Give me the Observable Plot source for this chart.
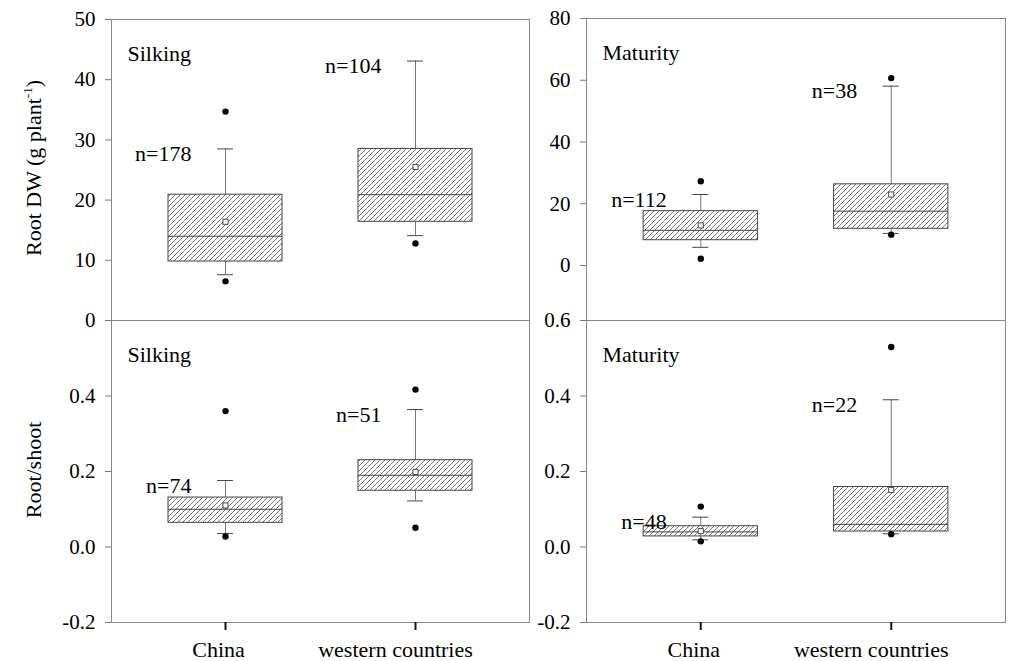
<!DOCTYPE html>
<html>
<head>
<meta charset="utf-8">
<script src="https://cdn.jsdelivr.net/npm/d3@7"></script>
<script src="https://cdn.jsdelivr.net/npm/@observablehq/plot@0.6"></script>
<style>
  html, body { margin: 0; padding: 0; background: white; }
  #wrap { position: relative; width: 1010px; height: 661px; background: white; overflow: hidden;
          font-family: 'Liberation Serif', 'Times New Roman', serif; color: black; }
  #wrap svg { position: absolute; }
  .ytitle { position: absolute; white-space: nowrap; font-size: 22px;
            font-family: 'Liberation Serif', 'Times New Roman', serif;
            transform: translate(-50%, -50%) rotate(-90deg); }
  .ytitle sup { font-size: 13px; vertical-align: 9px; line-height: 0; }
</style>
</head>
<body>
<div id="wrap">
  <div class="ytitle" style="left:34px; top:168px;">Root DW (g plant<sup>-1</sup>)</div>
  <div class="ytitle" style="left:34px; top:470px;">Root/shoot</div>
</div>
<script>
// ---- data ----
const groups = ["China", "western countries"];
const stages = ["Silking", "Maturity"];
// order of each stats array:
// [low outlier, low whisker, Q1, median, Q3, high whisker, high outlier, mean]
const dwSilkingChina    = [6.5, 7.6, 9.8, 14.0, 20.9, 28.5, 34.7, 16.4];
const dwSilkingWestern  = [12.8, 14.1, 16.4, 20.9, 28.5, 43.1, null, 25.5];
const dwMaturityChina   = [2.2, 5.9, 8.2, 11.4, 17.6, 23.0, 27.3, 13.0];
const dwMaturityWestern = [10.0, 10.4, 11.9, 17.6, 26.3, 58.1, 60.7, 23.0];
const rsSilkingChina    = [0.028, 0.036, 0.064, 0.100, 0.131, 0.176, 0.360, 0.110];
const rsSilkingWestern  = [0.051, 0.122, 0.149, 0.190, 0.230, 0.364, 0.417, 0.199];
const rsMaturityChina   = [0.015, 0.019, 0.028, 0.040, 0.055, 0.079, 0.107, 0.042];
const rsMaturityWestern = [0.034, 0.035, 0.041, 0.060, 0.159, 0.390, 0.530, 0.151];
const nDwSilking  = [178, 104];
const nDwMaturity = [112, 38];
const nRsSilking  = [74, 51];
const nRsMaturity = [48, 22];
const dwSilkingTicks  = [0, 10, 20, 30, 40, 50];
const dwMaturityTicks = [0, 20, 40, 60, 80];
const rsSilkingTicks  = [-0.2, 0.0, 0.2, 0.4];
const rsMaturityTicks = [-0.2, 0.0, 0.2, 0.4, 0.6];

// ---- build tables ----
function rows(china, western, ns) {
  return [china, western].map((s, i) => ({
    x: i + 1, lo: s[0], wlo: s[1], q1: s[2], med: s[3], q3: s[4], whi: s[5], hi: s[6], mean: s[7], n: ns[i]
  }));
}

const FONT = "'Liberation Serif', 'Times New Roman', serif";
const HALF = 0.3, CAP = 0.042;

function panel(cfg) {
  const {data, domain, ticks, fmt, stage, pid, left, top, width, height, margin, xAxis} = cfg;
  const marks = [
    Plot.frame({stroke: "#888", strokeWidth: 1}),
    Plot.ruleX(data, {x: "x", y1: "q3", y2: "whi", stroke: "#777"}),
    Plot.ruleX(data, {x: "x", y1: "q1", y2: "wlo", stroke: "#777"}),
    Plot.ruleY(data, {y: "whi", x1: d => d.x - CAP, x2: d => d.x + CAP, stroke: "#444"}),
    Plot.ruleY(data, {y: "wlo", x1: d => d.x - CAP, x2: d => d.x + CAP, stroke: "#444"}),
    Plot.rect(data, {x1: d => d.x - HALF, x2: d => d.x + HALF, y1: "q1", y2: "q3",
                     fill: `url(#${pid})`, stroke: "#444", strokeWidth: 1}),
    Plot.ruleY(data, {y: "med", x1: d => d.x - HALF, x2: d => d.x + HALF, stroke: "#444"}),
    Plot.dot(data, {x: "x", y: "mean", symbol: "square", r: 2.9, fill: "white", stroke: "#333", strokeWidth: 0.9}),
    Plot.dot(data, {x: "x", y: "hi", r: 3.2, fill: "black"}),
    Plot.dot(data, {x: "x", y: "lo", r: 3.2, fill: "black"}),
    Plot.text([stage], {text: d => d, frameAnchor: "top-left", dx: 16, dy: 34,
                        textAnchor: "start", lineAnchor: "middle", fontSize: 22, fill: "black"}),
    Plot.text(data, {x: "x", y: "whi", text: d => "n=" + d.n, textAnchor: "end", lineAnchor: "middle",
                     dx: -34, dy: 5, fontSize: 22, fill: "black"}),
    Plot.axisY(ticks, {tickSize: 6, tickPadding: 10, tickFormat: fmt, fontSize: 21,
                       stroke: "#777", fill: "black", label: null})
  ];
  if (xAxis) {
    marks.push(
      Plot.axisX([1, 2], {tickSize: 8, tickFormat: () => "", stroke: "#111", strokeWidth: 2, label: null}),
      Plot.axisX([1], {tickSize: 0, tickPadding: 19, tickFormat: d => groups[d - 1], dx: -7,
                       fontSize: 22, fill: "black", label: null}),
      Plot.axisX([2], {tickSize: 0, tickPadding: 19, tickFormat: d => groups[d - 1], dx: -20,
                       fontSize: 22, fill: "black", label: null})
    );
  }
  const svg = Plot.plot({
    width, height,
    marginLeft: margin[0], marginRight: margin[1], marginTop: margin[2], marginBottom: margin[3],
    x: {domain: [0.4, 2.6], axis: xAxis ? undefined : null},
    y: {domain, nice: false},
    marks
  });
  svg.style.background = "transparent";
  svg.style.overflow = "visible";
  svg.style.fontFamily = FONT;
  svg.style.color = "black";
  svg.setAttribute("font-family", FONT);
  d3.select(svg).selectAll("text").style("font-family", FONT);
  const defs = d3.select(svg).insert("defs", ":first-child");
  const pat = defs.append("pattern").attr("id", pid).attr("patternUnits", "userSpaceOnUse")
    .attr("width", 5).attr("height", 5);
  pat.append("rect").attr("width", 5).attr("height", 5).attr("fill", "white");
  pat.append("path").attr("d", "M-1,1 l2,-2 M0,5 l5,-5 M4,6 l2,-2")
    .attr("stroke", "#555").attr("stroke-width", 0.8).attr("fill", "none");
  svg.style.left = left + "px";
  svg.style.top = top + "px";
  svg.style.maxWidth = "none";
  svg.style.height = height + "px";
  document.getElementById("wrap").appendChild(svg);
}

const fmtInt = d => String(d);
const fmt1 = d => d.toFixed(1);

panel({data: rows(dwSilkingChina, dwSilkingWestern, nDwSilking), domain: [0, 50], ticks: dwSilkingTicks,
       fmt: fmtInt, stage: stages[0], pid: "hatch-tl", left: 0, top: 0, width: 540, height: 330,
       margin: [111, 11, 19, 10], xAxis: false});
panel({data: rows(dwMaturityChina, dwMaturityWestern, nDwMaturity), domain: [-17.8, 80], ticks: dwMaturityTicks,
       fmt: fmtInt, stage: stages[1], pid: "hatch-tr", left: 530, top: 0, width: 480, height: 330,
       margin: [56, 5, 18, 10], xAxis: false});
panel({data: rows(rsSilkingChina, rsSilkingWestern, nRsSilking), domain: [-0.2, 0.6], ticks: rsSilkingTicks,
       fmt: fmt1, stage: stages[0], pid: "hatch-bl", left: 0, top: 310, width: 540, height: 351,
       margin: [111, 11, 10, 39], xAxis: true});
panel({data: rows(rsMaturityChina, rsMaturityWestern, nRsMaturity), domain: [-0.2, 0.6], ticks: rsMaturityTicks,
       fmt: fmt1, stage: stages[1], pid: "hatch-br", left: 530, top: 310, width: 480, height: 351,
       margin: [56, 5, 10, 39], xAxis: true});
</script>
</body>
</html>
